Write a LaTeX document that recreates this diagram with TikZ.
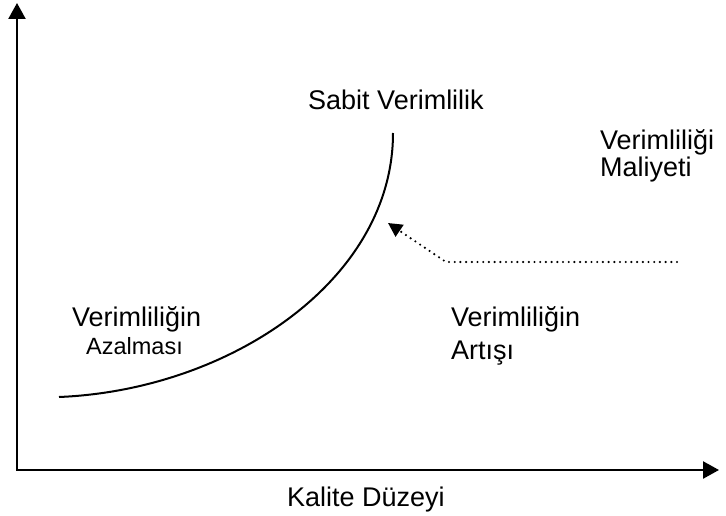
\documentclass[tikz,border=0pt]{standalone}
\usepackage{fontspec}
\setmainfont{Liberation Sans}
\usetikzlibrary{arrows.meta}

\tikzset{
  lbl/.style={font=\fontsize{27}{31}\selectfont, anchor=base west, inner sep=0pt},
  small/.style={font=\fontsize{23.5}{27}\selectfont, anchor=base west, inner sep=0pt},
  axis/.style={line width=2.4pt, {Triangle[length=16pt,width=17pt]}-{Triangle[length=16pt,width=17pt]}},
  dotline/.style={line width=2.4pt, line cap=round, dash pattern=on 0pt off 5.7pt, -{Triangle[length=14pt,width=14pt]}}
}

\begin{document}
\begin{tikzpicture}[x=1pt, y=-1pt]
  \useasboundingbox (0,0) rectangle (726,516);

  % axes
  \coordinate (ytop) at (17,3);
  \coordinate (O) at (17,470);
  \coordinate (xend) at (719,470);
  \draw[axis] (ytop) -- (O) -- (xend);
  \node[font=\fontsize{27}{31}\selectfont, anchor=base, inner sep=0pt] (xlabel) at (366,506) {Kalite Düzeyi};

  % curve
  \coordinate (cstart) at (59,397);
  \coordinate (cend) at (393,133);
  \draw[line width=2pt] (cstart) .. controls (230,390) and (393,280) .. (cend);
  \node[lbl] (sabit) at (308,110) {Sabit Verimlilik};

  % labels
  \node[lbl] (maliyet1) at (600,150) {Verimliliği};
  \node[lbl] (maliyet2) at (600,177) {Maliyeti};
  \node[lbl] (azal1) at (72,326) {Verimliliğin};
  \node[small] (azal2) at (86,354) {Azalması};
  \node[lbl] (artis1) at (451,326) {Verimliliğin};
  \node[lbl] (artis2) at (451,359) {Artışı};

  % dotted arrow
  \coordinate (dotstart) at (677,262);
  \coordinate (dotbend) at (446,262);
  \coordinate (dottip) at (388,223);
  \draw[dotline] (dotstart) -- (dotbend) -- (dottip);
\end{tikzpicture}
\end{document}
